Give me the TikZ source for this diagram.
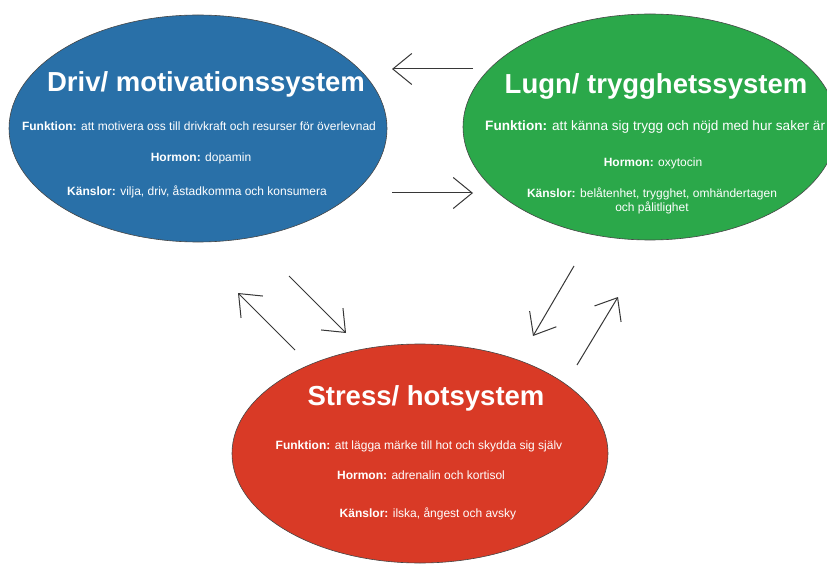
\documentclass[tikz,border=0pt]{standalone}
\usepackage{fontspec}
\setmainfont{Liberation Sans}
\usetikzlibrary{arrows.meta,shapes.geometric}
\definecolor{driveblue}{RGB}{41,112,168}
\definecolor{calmgreen}{RGB}{43,168,74}
\definecolor{threatred}{RGB}{217,58,38}
\definecolor{rimgray}{RGB}{70,70,70}
\definecolor{arrowgray}{RGB}{55,55,55}
\tikzset{
  sysellipse/.style={ellipse, draw=rimgray, line width=0.6pt, inner sep=0pt},
  systitle/.style={text=white, font=\fontsize{27.5}{31}\selectfont\bfseries, inner sep=0pt},
  sysline/.style={text=white, font=\fontsize{12}{14}\selectfont, inner sep=0pt, align=center},
  flowarrow/.style={draw=arrowgray, line width=1pt, -{Straight Barb[length=19pt,width=31pt]}}
}
\begin{document}
\begin{tikzpicture}[x=1pt,y=-1pt]
\useasboundingbox (0,0) rectangle (827,564);
% ellipses
\node[sysellipse, fill=driveblue, minimum width=378pt, minimum height=227pt] (drive) at (198,128.5) {};
\node[sysellipse, fill=calmgreen, minimum width=374pt, minimum height=226pt] (calm) at (650,127) {};
\node[sysellipse, fill=threatred, minimum width=376pt, minimum height=219pt] (threat) at (420,453.5) {};
% drive texts
\node[systitle] (drivetitle) at (206,84) {Driv/ motivationssystem};
\node[sysline] (drivef) at (199,126) {\textbf{Funktion:} att motivera oss till drivkraft och resurser för överlevnad};
\node[sysline] (driveh) at (201,158) {\textbf{Hormon:} dopamin};
\node[sysline] (drivek) at (197,192) {\textbf{Känslor:} vilja, driv, åstadkomma och konsumera};
% calm texts
\node[systitle] (calmtitle) at (656,86) {Lugn/ trygghetssystem};
\node[sysline, anchor=west, font=\fontsize{13.6}{16}\selectfont] (calmf) at (485,127) {\textbf{Funktion:} att känna sig trygg och nöjd med hur saker är};
\node[sysline] (calmh) at (653,163) {\textbf{Hormon:} oxytocin};
\node[sysline] (calmk) at (652,201) {\textbf{Känslor:} belåtenhet, trygghet, omhändertagen\\och pålitlighet};
% threat texts
\node[systitle] (threattitle) at (426,398) {Stress/ hotsystem};
\node[sysline] (threatf) at (419,446) {\textbf{Funktion:} att lägga märke till hot och skydda sig själv};
\node[sysline] (threath) at (421,475) {\textbf{Hormon:} adrenalin och kortisol};
\node[sysline] (threatk) at (428,514) {\textbf{Känslor:} ilska, ångest och avsky};
% arrow end points
\coordinate (a1s) at (473,69);  \coordinate (a1e) at (392,69);
\coordinate (a2s) at (392,193); \coordinate (a2e) at (473,193);
\coordinate (a3s) at (295,350); \coordinate (a3e) at (238,293);
\coordinate (a4s) at (289,276); \coordinate (a4e) at (346,333);
\coordinate (a5s) at (574,266); \coordinate (a5e) at (533,336);
\coordinate (a6s) at (577,365); \coordinate (a6e) at (618,297);
\draw[flowarrow] (a1s) -- (a1e);
\draw[flowarrow] (a2s) -- (a2e);
\draw[flowarrow] (a3s) -- (a3e);
\draw[flowarrow] (a4s) -- (a4e);
\draw[flowarrow] (a5s) -- (a5e);
\draw[flowarrow] (a6s) -- (a6e);
\end{tikzpicture}
\end{document}
